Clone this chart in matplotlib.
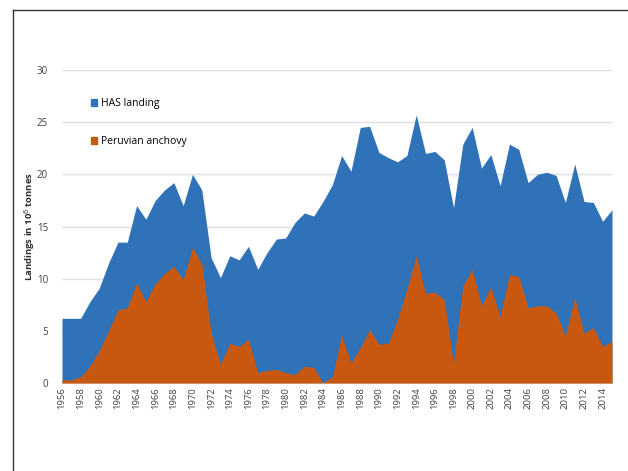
import numpy as np
import matplotlib.pyplot as plt
from matplotlib.lines import Line2D
from matplotlib.patches import Patch

plt.rcParams['font.family'] = ['Open Sans', 'DejaVu Sans']

years = np.arange(1956, 2016)

has_landing = [6.2, 6.2, 6.2, 7.8, 9.1, 11.5, 13.5, 13.5, 17.0, 15.7,
               17.5, 18.5, 19.2, 17.0, 20.0, 18.5, 12.0, 10.1, 12.2, 11.8,
               13.1, 10.9, 12.5, 13.8, 13.9, 15.4, 16.3, 16.0, 17.4, 19.0,
               21.8, 20.3, 24.5, 24.6, 22.1, 21.6, 21.2, 21.8, 25.7, 22.0,
               22.2, 21.4, 16.8, 22.9, 24.5, 20.6, 21.9, 18.9, 22.9, 22.4,
               19.2, 20.0, 20.2, 19.9, 17.3, 21.0, 17.4, 17.3, 15.5, 16.6]

peruvian_anchovy = [0.3, 0.3, 0.6, 1.6, 3.1, 5.0, 7.0, 7.2, 9.6, 7.8,
                    9.5, 10.5, 11.2, 9.9, 13.0, 11.4, 4.8, 1.8, 3.8, 3.5,
                    4.2, 1.0, 1.2, 1.3, 1.0, 0.8, 1.6, 1.5, 0.0, 0.6,
                    4.6, 1.9, 3.4, 5.1, 3.7, 3.8, 6.1, 9.0, 12.2, 8.6,
                    8.7, 8.0, 1.9, 9.3, 10.9, 7.4, 9.2, 6.4, 10.4, 10.2,
                    7.2, 7.4, 7.4, 6.7, 4.5, 8.2, 4.8, 5.3, 3.5, 4.0]

yticks = [0, 5, 10, 15, 20, 25, 30]
xtick_years = np.arange(1956, 2015, 2)

blue = '#3072b8'
orange = '#c8580f'

fig = plt.figure(figsize=(6.28, 4.71), dpi=100)
ax = fig.add_axes([0.0987, 0.1868, 0.8758, 0.6646])

ax.fill_between(years, 0, has_landing, color=blue, lw=0, zorder=2)
ax.fill_between(years, 0, peruvian_anchovy, color=orange, lw=0, zorder=3)

ax.set_xlim(1956, 2015)
ax.set_ylim(0, 30)
ax.set_yticks(yticks)
ax.set_xticks(xtick_years)
ax.set_xticklabels([str(y) for y in xtick_years], rotation=90, fontsize=6.8, color='#404040')
ax.tick_params(axis='y', labelsize=7, colors='#404040', length=0, pad=10)
ax.tick_params(axis='x', length=0, pad=3)
ax.grid(axis='y', color='#e0e0e0', lw=1, zorder=0)
for s in ['top', 'right', 'left']:
    ax.spines[s].set_visible(False)
ax.spines['bottom'].set_color('#d0d0d0')
ax.set_ylabel('Landings in 10$^6$ tonnes', fontsize=6.8, fontweight='bold', color='#303030', labelpad=0)

handles = [Patch(color=blue), Patch(color=orange)]
ax.legend(handles, ['HAS landing', 'Peruvian anchovy'], loc='upper left',
          bbox_to_anchor=(0.035, 0.94), frameon=False, fontsize=7.5,
          handlelength=0.6, handleheight=0.6, handletextpad=0.4, labelspacing=2.6)

# outer frame (left and top only)
fig.add_artist(Line2D([12.5 / 628, 12.5 / 628], [0, 1 - 9.5 / 471], color='#333333', lw=1))
fig.add_artist(Line2D([12.5 / 628, 1], [1 - 9.5 / 471, 1 - 9.5 / 471], color='#333333', lw=1))

fig.savefig('out.png', dpi=100)
